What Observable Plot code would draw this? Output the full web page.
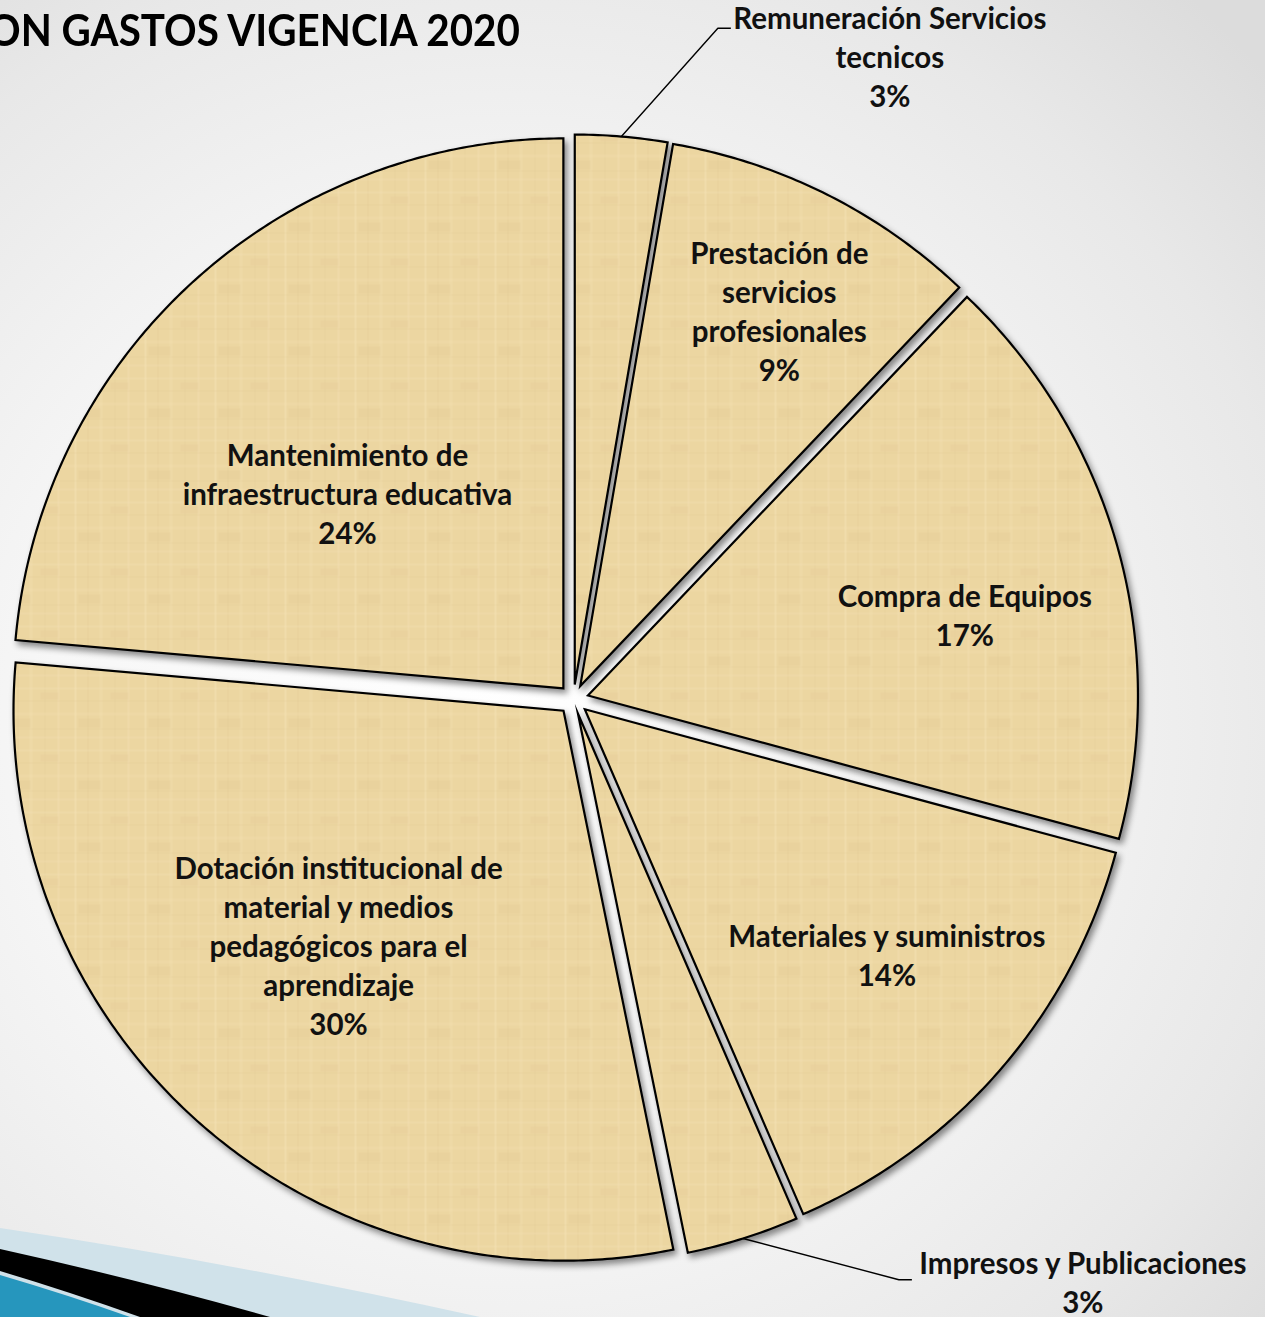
<!DOCTYPE html>
<html><head><meta charset="utf-8">
<script src="https://cdn.jsdelivr.net/npm/d3@7"></script>
<script src="https://cdn.jsdelivr.net/npm/@observablehq/plot@0.6"></script>
<style>
html,body{margin:0;padding:0;}
body{width:1265px;height:1317px;overflow:hidden;position:relative;
 background: radial-gradient(ellipse 80% 75% at 40% 55%, #ffffff 0%, #f7f7f7 45%, #e8e8e8 80%, #dcdcdc 100%);
 font-family: Lato, "Open Sans", sans-serif;}
#deco{position:absolute;left:0;top:0;}
#chart{position:absolute;left:0;top:0;}
#title{position:absolute;left:-12px;top:4px;font-weight:bold;font-size:43px;font-family:Lato,sans-serif;color:#000;white-space:nowrap;transform-origin:left top;line-height:1.2;}
</style></head>
<body>
<svg id="deco" width="1265" height="1317">
  <path d="M0,1228 Q230,1262 480,1317 L0,1317 Z" fill="#d0e2ea"/>
  <path d="M0,1249 Q140,1280 270,1317 L0,1317 Z" fill="#000"/>
  <path d="M0,1271 Q70,1292 140,1317 L0,1317 Z" fill="#cfe1e9"/>
  <path d="M0,1275 Q68,1295 130,1317 L0,1317 Z" fill="#2696bd"/>
</svg>
<svg width="0" height="0" style="position:absolute">
  <defs>
    <pattern id="papyrus" patternUnits="userSpaceOnUse" width="70" height="62">
      <rect width="70" height="62" fill="#ecd6a1"/>
      <rect x="4" y="0" width="2" height="62" fill="#f6e6bd" opacity="0.35"/>
      <rect x="17" y="0" width="1" height="62" fill="#d9c089" opacity="0.25"/>
      <rect x="29" y="0" width="3" height="62" fill="#f4e2b4" opacity="0.3"/>
      <rect x="44" y="0" width="1" height="62" fill="#dbc28b" opacity="0.22"/>
      <rect x="57" y="0" width="2" height="62" fill="#f5e4b9" opacity="0.3"/>
      <rect x="0" y="5" width="70" height="2" fill="#f4e3b7" opacity="0.3"/>
      <rect x="0" y="18" width="70" height="1" fill="#d8bf88" opacity="0.22"/>
      <rect x="0" y="30" width="70" height="3" fill="#f2dfb0" opacity="0.28"/>
      <rect x="0" y="46" width="70" height="1" fill="#dbc28b" opacity="0.22"/>
      <rect x="0" y="54" width="70" height="2" fill="#f3e1b5" opacity="0.25"/>
      <rect x="8" y="36" width="22" height="9" fill="#e3cb95" opacity="0.3"/>
      <rect x="40" y="10" width="18" height="7" fill="#e2c992" opacity="0.25"/>
    </pattern>
  </defs>
</svg>
<div id="chart"></div>
<div id="title">ON GASTOS VIGENCIA 2020</div>
<script>
// ---- data ----
const categories = [
  "Remuneración Servicios\ntecnicos",
  "Prestación de\nservicios\nprofesionales",
  "Compra de Equipos",
  "Materiales y suministros",
  "Impresos y Publicaciones",
  "Dotación institucional de\nmaterial y medios\npedagógicos para el\naprendizaje",
  "Mantenimiento de\ninfraestructura educativa"
];
const values = [2.7, 9.4, 17.1, 14.3, 3.3, 29.6, 23.6];

// ---- layout ----
const W = 1265, H = 1317;
const cx = 573, cy = 699, R = 550;
const explode = 15 / R;
const labelAngleShift = [21.4, 1.4, 3.8, -1.5, -23.6, 1.7, -5.4];
const labelRadius = [1.30, 0.796, 0.727, 0.737, 1.41, 0.621, 0.554];
const leaderEnd = [[-159, -30], null, null, null, [-171, -4.5], null, null];
const fontSize = 29.5;

const total = d3.sum(values);
const rows = categories.map((c, i) => ({name: c, value: values[i], pct: Math.round(values[i] / total * 100) + "%"}));
const arcs = d3.pie().sort(null).value(d => d.value)(rows);

const slicePts = [];
const labels = [];
const leaders = [];
arcs.forEach((a, i) => {
  const mid = (a.startAngle + a.endAngle) / 2;
  const ox = explode * Math.sin(mid), oy = explode * Math.cos(mid);
  slicePts.push({name: a.data.name, x: ox, y: oy});
  const n = Math.max(2, Math.ceil((a.endAngle - a.startAngle) / (Math.PI / 360)));
  for (let k = 0; k <= n; k++) {
    const t = a.startAngle + (a.endAngle - a.startAngle) * k / n;
    slicePts.push({name: a.data.name, x: ox + Math.sin(t), y: oy + Math.cos(t)});
  }
  const la = mid + labelAngleShift[i] * Math.PI / 180;
  const lx = labelRadius[i] * Math.sin(la), ly = labelRadius[i] * Math.cos(la);
  labels.push({x: lx, y: ly, text: a.data.name + "\n" + a.data.pct});
  if (leaderEnd[i]) {
    const ex = lx + leaderEnd[i][0] / R, ey = ly - leaderEnd[i][1] / R;
    leaders.push({name: a.data.name, x: (1 + explode) * Math.sin(mid), y: (1 + explode) * Math.cos(mid)});
    leaders.push({name: a.data.name, x: ex - 13 / R, y: ey});
    leaders.push({name: a.data.name, x: ex, y: ey});
  }
});

const chart = Plot.plot({
  width: W, height: H, margin: 0,
  style: {background: "transparent", overflow: "visible"},
  x: {domain: [-cx / R, (W - cx) / R], axis: null},
  y: {domain: [-(H - cy) / R, cy / R], axis: null},
  marks: [
    Plot.line(slicePts, {x: "x", y: "y", z: "name", curve: "linear-closed", fill: "url(#papyrus)", stroke: "#000", strokeWidth: 2.2, strokeLinejoin: "miter", strokeMiterlimit: 10}),
    Plot.line(leaders, {x: "x", y: "y", z: "name", stroke: "#000", strokeWidth: 1.4, strokeLinejoin: "miter", strokeLinecap: "butt"}),
    Plot.text(labels, {x: "x", y: "y", text: "text", fontSize: fontSize, fontWeight: "bold", fontFamily: "Lato, sans-serif", lineHeight: 39 / fontSize, fill: "#111", dy: -3})
  ]
});
document.getElementById("chart").appendChild(chart);
const lineGroups = chart.querySelectorAll('g[aria-label="line"]');
if (lineGroups[0]) lineGroups[0].style.filter = "drop-shadow(3px 4px 3px rgba(0,0,0,0.45))";

// fit title width
const t = document.getElementById("title");
const tw = t.getBoundingClientRect().width;
t.style.transform = `scaleX(${532 / tw})`;
</script>
</body></html>
